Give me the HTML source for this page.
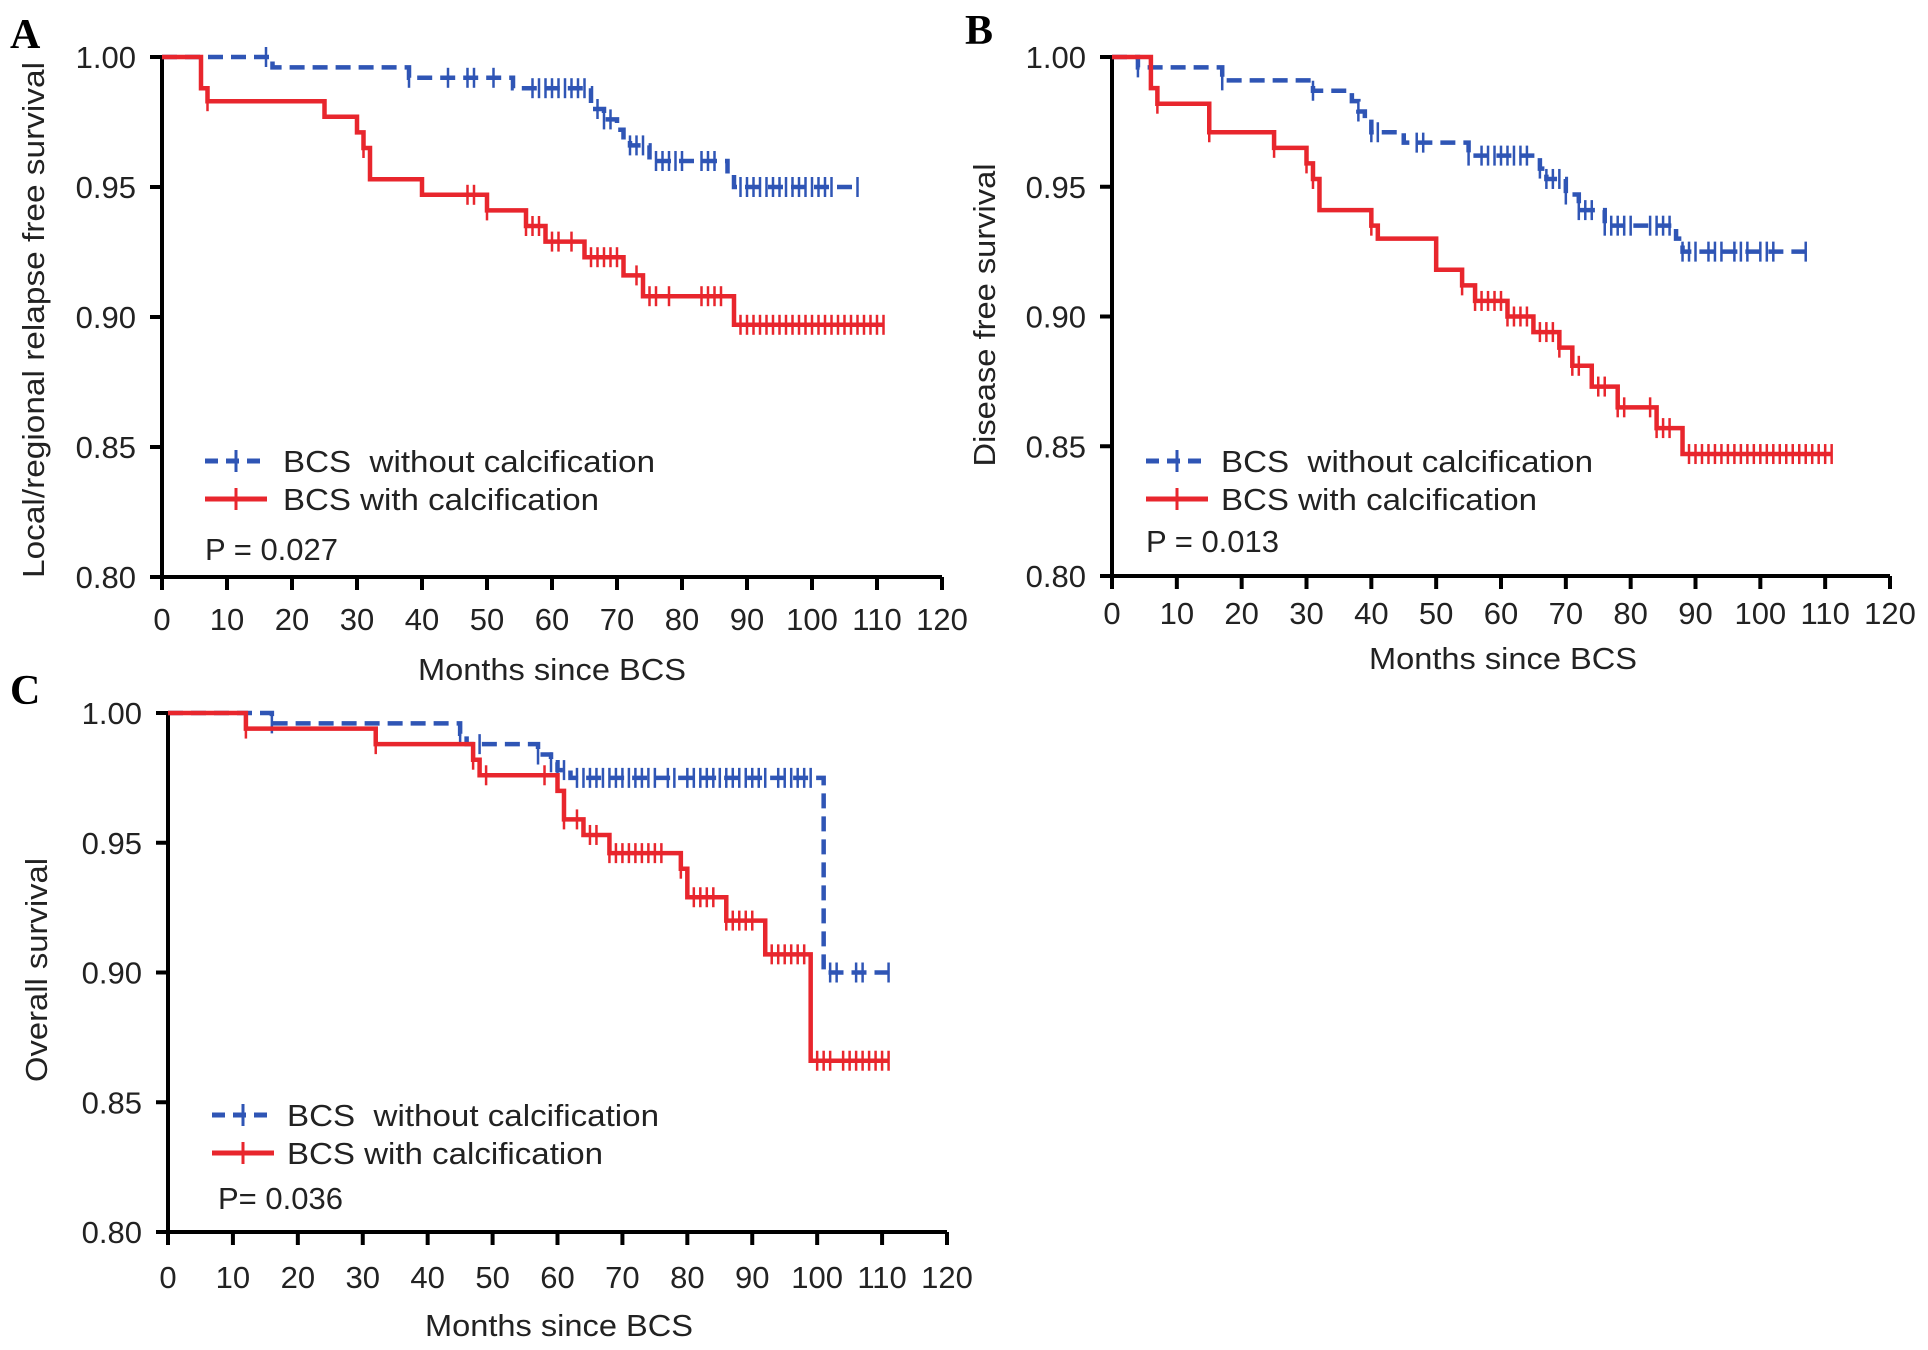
<!DOCTYPE html>
<html><head><meta charset="utf-8">
<style>
html,body{margin:0;padding:0;background:#fff;}
svg{display:block;font-family:"Liberation Sans",Arial,sans-serif;}
text{white-space:pre;}
</style></head>
<body>
<svg id="fig" width="1928" height="1350" viewBox="0 0 1928 1350" xmlns="http://www.w3.org/2000/svg"></svg>
<script>
// ---------- DATA ----------
const xTicks = [0,10,20,30,40,50,60,70,80,90,100,110,120];
const yTicks = [0.80,0.85,0.90,0.95,1.00];
const yTickLabels = ["0.80","0.85","0.90","0.95","1.00"];
const legendLabels = ["BCS  without calcification","BCS with calcification"];

// Panel A
const aBlueTimes = [0,17,38,54,66,68,70,71,72,75,87,88];
const aBlueSurv  = [1,0.996,0.992,0.988,0.980,0.976,0.972,0.968,0.966,0.960,0.955,0.950];
const aBlueEnd = 107;
const aBlueCens = [16,38,44,47,48,51,57,58,59,60,61,62,63,64,65,67,68,69,72,73,74,76,77,78,79,80,83,84,85,89,90,91,92,93,94,95,96,97,98,99,100,101,102,103,107];
const aRedTimes = [0,6,7,25,30,31,32,40,50,56,59,65,71,74,88];
const aRedSurv  = [1,0.988,0.983,0.977,0.971,0.965,0.953,0.947,0.941,0.935,0.929,0.923,0.916,0.908,0.897];
const aRedEnd = 111;
const aRedCens = [7,31,47,48,50,56,57,58,60,61,63,66,67,68,69,70,73,75,76,78,83,84,85,86,89,90,91,92,93,94,95,96,97,98,99,100,101,102,103,104,105,106,107,108,109,110,111];

// Panel B
const bBlueTimes = [0,4,17,31,37,38,39,40,45,55,66,67,70,72,76,87,88];
const bBlueSurv  = [1,0.996,0.991,0.987,0.983,0.979,0.975,0.971,0.967,0.962,0.957,0.953,0.947,0.941,0.935,0.930,0.925];
const bBlueEnd = 107;
const bBlueCens = [4,17,31,38,40,41,47,48,55,57,58,59,60,61,62,63,64,66,67,68,69,70,72,73,74,76,77,78,79,80,83,84,85,86,88,89,90,92,93,94,96,97,98,100,101,102,107];
const bRedTimes = [0,6,7,15,25,30,31,32,40,41,50,54,56,61,65,69,71,74,78,84,88];
const bRedSurv  = [1,0.988,0.982,0.971,0.965,0.959,0.953,0.941,0.935,0.930,0.918,0.912,0.906,0.900,0.894,0.888,0.881,0.873,0.865,0.857,0.847];
const bRedEnd = 111;
const bRedCens = [7,15,25,30,31,40,54,56,57,58,59,60,61,62,63,64,66,67,68,69,71,72,75,76,78,79,83,84,85,86,89,90,91,92,93,94,95,96,97,98,99,100,101,102,103,104,105,106,107,108,109,110,111];

// Panel C
const cBlueTimes = [0,16,45,46,57,59,60,62,101];
const cBlueSurv  = [1,0.996,0.992,0.988,0.984,0.981,0.978,0.975,0.900];
const cBlueEnd = 111;
const cBlueCens = [16,45,48,57,59,60,61,63,64,65,66,67,68,69,70,71,72,73,74,75,77,78,80,81,82,83,84,85,86,87,88,89,90,91,92,94,95,96,97,98,99,102,103,106,107,111];
const cRedTimes = [0,12,32,47,48,60,61,64,68,79,80,86,92,99];
const cRedSurv  = [1,0.994,0.988,0.982,0.976,0.970,0.959,0.953,0.946,0.940,0.929,0.920,0.907,0.866];
const cRedEnd = 111;
const cRedCens = [12,32,47,49,58,61,63,65,66,68,69,70,71,72,73,74,75,76,79,81,82,83,84,86,87,88,89,90,93,94,95,96,97,98,100,101,102,104,105,106,107,108,109,110,111];

// ---------- DRAWING ----------
const NS = "http://www.w3.org/2000/svg";
const svg = document.getElementById('fig');
const BLUE = "#2f55b5", RED = "#e8262d";
function mk(tag, attrs, parent){
  const e = document.createElementNS(NS, tag);
  for (const k in attrs) e.setAttribute(k, attrs[k]);
  (parent||svg).appendChild(e);
  return e;
}

function panel(cfg){
  const g = mk('g', {});
  
  
  const X = t => cfg.x0 + (t/120)*(cfg.x1-cfg.x0);
  const Y = v => cfg.y0 + (1 - v)/0.2*(cfg.y1-cfg.y0);

  const L = mk('text', {x:cfg.lx, y:cfg.ly, 'font-family':'"Liberation Serif",serif', 'font-weight':'bold', 'font-size':42}, g);
  L.textContent = cfg.letter;
  
  

  const ax = mk('path', {d:`M${X(0)} ${Y(1)} V${Y(0.8)} H${X(120)}`, stroke:'#000','stroke-width':4, fill:'none'}, g);
  
  
  yTicks.forEach((v,i)=>{
    const tk = mk('line', {x1:X(0)-12, x2:X(0), y1:Y(v), y2:Y(v), stroke:'#000','stroke-width':4}, g);
    
    
    const t = mk('text', {x:X(0)-26, y:Y(v)+11, 'text-anchor':'end', 'font-size':31, fill:'#222'}, g);
    t.textContent = yTickLabels[i];
    
    
  });
  xTicks.forEach(v=>{
    const tk = mk('line', {x1:X(v), x2:X(v), y1:Y(0.8), y2:Y(0.8)+13, stroke:'#000','stroke-width':4}, g);
    
    
    const t = mk('text', {x:X(v), y:cfg.xly, 'text-anchor':'middle', 'font-size':31, fill:'#222'}, g);
    t.textContent = String(v);
    
    
  });
  const xt = mk('text', {x:cfg.xtx, y:cfg.xty, 'text-anchor':'middle', 'font-size':31, fill:'#222', textLength:268, lengthAdjust:'spacingAndGlyphs'}, g);
  xt.textContent = 'Months since BCS';
  
  
  const yt = mk('text', {x:0, y:0, 'text-anchor':'middle', 'font-size':31, fill:'#222', textLength:cfg.ytLen, lengthAdjust:'spacingAndGlyphs', transform:`translate(${cfg.ytx},${cfg.yty}) rotate(-90)`}, g);
  yt.textContent = cfg.ytitle;
  
  

  function series(times, surv, end, cens, color, dashed, nm){
    let d = `M${X(times[0])} ${Y(surv[0])}`;
    for (let i=1;i<times.length;i++){
      d += ` H${X(times[i])} V${Y(surv[i])}`;
    }
    d += ` H${X(end)}`;
    const p = mk('path', {d, stroke:color, 'stroke-width':4.5, fill:'none'}, g);
    if (dashed) p.setAttribute('stroke-dasharray','15 8');
    
    
    cens.forEach(t=>{
      let v = surv[0];
      for (let i=0;i<times.length;i++) if (times[i] <= t) v = surv[i];
      const c = mk('line', {x1:X(t), x2:X(t), y1:Y(v)-10, y2:Y(v)+10, stroke:color, 'stroke-width':2.5}, g);
      
      
    });
  }
  series(cfg.bt, cfg.bs, cfg.be, cfg.bc, BLUE, true, 'without-calcification');
  series(cfg.rt, cfg.rs, cfg.re, cfg.rc, RED, false, 'with-calcification');

  const lg = mk('g', {}, g);
  
  
  const l1 = mk('line', {x1:cfg.legx, x2:cfg.legx+62, y1:cfg.leg1y, y2:cfg.leg1y, stroke:BLUE, 'stroke-width':5, 'stroke-dasharray':'13 8'}, lg);
  
  
  mk('line', {x1:cfg.legx+31, x2:cfg.legx+31, y1:cfg.leg1y-11, y2:cfg.leg1y+11, stroke:BLUE, 'stroke-width':3}, lg);
  const l2 = mk('line', {x1:cfg.legx, x2:cfg.legx+62, y1:cfg.leg2y, y2:cfg.leg2y, stroke:RED, 'stroke-width':5}, lg);
  
  
  mk('line', {x1:cfg.legx+31, x2:cfg.legx+31, y1:cfg.leg2y-11, y2:cfg.leg2y+11, stroke:RED, 'stroke-width':3}, lg);
  const t1 = mk('text', {x:cfg.legtx, y:cfg.leg1y+11, 'font-size':31, fill:'#222', textLength:372, lengthAdjust:'spacingAndGlyphs'}, lg);
  t1.textContent = legendLabels[0];
  
  
  const t2 = mk('text', {x:cfg.legtx, y:cfg.leg2y+11, 'font-size':31, fill:'#222', textLength:316, lengthAdjust:'spacingAndGlyphs'}, lg);
  t2.textContent = legendLabels[1];
  
  
  const pt = mk('text', {x:cfg.px, y:cfg.py+11, 'font-size':31, fill:'#222'}, g);
  pt.textContent = cfg.p;
  
  
}

panel({name:'panel-a', letter:'A', lx:10, ly:48, x0:162, x1:942, y0:57, y1:577,
  xly:630, xtx:552, xty:680, ytx:44, yty:320, ytLen:516, ytitle:'Local/regional relapse free survival',
  legx:205, legtx:283, leg1y:461, leg2y:499, px:205, py:549, p:'P = 0.027',
  bt:aBlueTimes, bs:aBlueSurv, be:aBlueEnd, bc:aBlueCens,
  rt:aRedTimes, rs:aRedSurv, re:aRedEnd, rc:aRedCens});

panel({name:'panel-b', letter:'B', lx:965, ly:44, x0:1112, x1:1890, y0:57, y1:576,
  xly:624, xtx:1503, xty:669, ytx:995, yty:315, ytLen:303, ytitle:'Disease free survival',
  legx:1146, legtx:1221, leg1y:461, leg2y:499, px:1146, py:541, p:'P = 0.013',
  bt:bBlueTimes, bs:bBlueSurv, be:bBlueEnd, bc:bBlueCens,
  rt:bRedTimes, rs:bRedSurv, re:bRedEnd, rc:bRedCens});

panel({name:'panel-c', letter:'C', lx:10, ly:704, x0:168, x1:947, y0:713, y1:1232,
  xly:1288, xtx:559, xty:1336, ytx:47, yty:970, ytLen:224, ytitle:'Overall survival',
  legx:212, legtx:287, leg1y:1115, leg2y:1153, px:218, py:1198, p:'P= 0.036',
  bt:cBlueTimes, bs:cBlueSurv, be:cBlueEnd, bc:cBlueCens,
  rt:cRedTimes, rs:cRedSurv, re:cRedEnd, rc:cRedCens});
</script>
</body></html>
